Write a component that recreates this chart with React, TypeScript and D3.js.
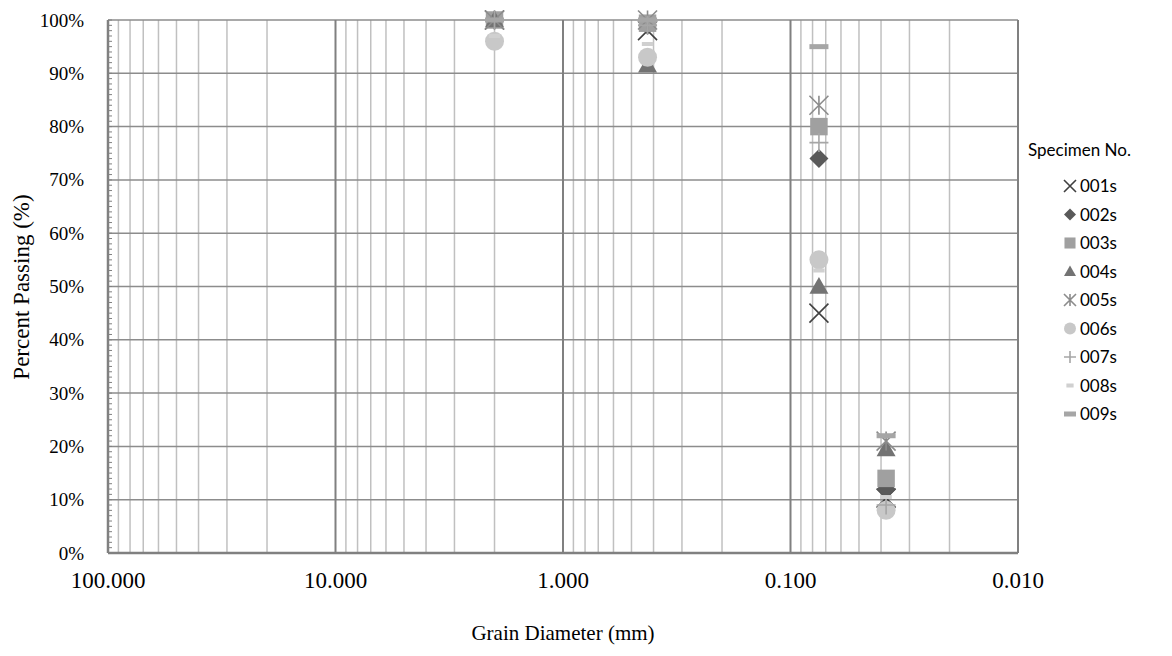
import { useEffect, useRef } from "react";
import * as d3 from "d3";

// sieve sizes (mm)
const sizes = [2.0, 0.425, 0.075, 0.038];

const specimens = ["001s", "002s", "003s", "004s", "005s", "006s", "007s", "008s", "009s"];

// percent passing per specimen, same order as sizes
const s001 = [100, 98, 45, 10.3];
const s002 = [100, 99, 74, 12];
const s003 = [100, 99.4, 80, 14];
const s004 = [100, 91.5, 50, 19.5];
const s005 = [100, 100, 84, 21];
const s006 = [96, 93, 55, 8];
const s007 = [100, 99, 77, 9];
const s008 = [97, 95.5, 53, 10.5];
const s009 = [100, 100, 95, 22];

const yTicks = [0, 10, 20, 30, 40, 50, 60, 70, 80, 90, 100];
const xTicks = [100, 10, 1, 0.1, 0.01];

const seriesValues = [s001, s002, s003, s004, s005, s006, s007, s008, s009];
const markerKinds = ["x", "diamond", "square", "triangle", "star", "circle", "plus", "dashShort", "dashLong"];
const markerColors = ["#404040", "#595959", "#a0a0a0", "#737373", "#8c8c8c", "#c8c8c8", "#a6a6a6", "#d0d0d0", "#a6a6a6"];

function drawMarker(g, kind, cx, cy, s, color) {
  const h = s / 2;
  if (kind === "x") {
    g.append("path")
      .attr("d", `M${cx - h},${cy - h}L${cx + h},${cy + h}M${cx - h},${cy + h}L${cx + h},${cy - h}`)
      .attr("stroke", color)
      .attr("stroke-width", 1.6)
      .attr("fill", "none");
  } else if (kind === "diamond") {
    g.append("path")
      .attr("d", `M${cx},${cy - h}L${cx + h},${cy}L${cx},${cy + h}L${cx - h},${cy}Z`)
      .attr("fill", color);
  } else if (kind === "square") {
    g.append("rect")
      .attr("x", cx - h * 0.92)
      .attr("y", cy - h * 0.92)
      .attr("width", s * 0.92)
      .attr("height", s * 0.92)
      .attr("fill", color);
  } else if (kind === "triangle") {
    g.append("path")
      .attr("d", `M${cx},${cy - h}L${cx + h},${cy + h * 0.75}L${cx - h},${cy + h * 0.75}Z`)
      .attr("fill", color);
  } else if (kind === "star") {
    g.append("path")
      .attr(
        "d",
        `M${cx - h},${cy - h}L${cx + h},${cy + h}M${cx - h},${cy + h}L${cx + h},${cy - h}M${cx},${cy - h}L${cx},${cy + h}`
      )
      .attr("stroke", color)
      .attr("stroke-width", 1.6)
      .attr("fill", "none");
  } else if (kind === "circle") {
    g.append("circle").attr("cx", cx).attr("cy", cy).attr("r", h).attr("fill", color);
  } else if (kind === "plus") {
    g.append("path")
      .attr("d", `M${cx - h},${cy}L${cx + h},${cy}M${cx},${cy - h}L${cx},${cy + h}`)
      .attr("stroke", color)
      .attr("stroke-width", 1.6)
      .attr("fill", "none");
  } else if (kind === "dashShort") {
    g.append("rect")
      .attr("x", cx - h * 0.6)
      .attr("y", cy - 2)
      .attr("width", s * 0.6)
      .attr("height", 4)
      .attr("fill", color);
  } else if (kind === "dashLong") {
    g.append("rect")
      .attr("x", cx - h)
      .attr("y", cy - 2.5)
      .attr("width", s)
      .attr("height", 5)
      .attr("fill", color);
  }
}

export default function App() {
  const svgRef = useRef(null);

  useEffect(() => {
    document.body.style.margin = "0";
    if (!svgRef.current) return;
    const width = 1172;
    const height = 656;
    const left = 108;
    const right = 1018;
    const top = 20;
    const bottom = 553;

    const svg = d3.select(svgRef.current);
    svg.selectAll("*").remove();
    svg.attr("width", width).attr("height", height);

    const x = d3.scaleLog().domain([100, 0.01]).range([left, right]);
    const y = d3.scaleLinear().domain([0, 100]).range([bottom, top]);

    const grid = svg.append("g");

    // minor vertical grid
    const minors = [];
    [0.01, 0.1, 1, 10].forEach((d) => {
      for (let k = 2; k <= 9; k++) minors.push(d * k);
    });
    minors.forEach((v) => {
      grid
        .append("line")
        .attr("x1", x(v))
        .attr("x2", x(v))
        .attr("y1", top)
        .attr("y2", bottom)
        .attr("stroke", "#c0c0c0")
        .attr("stroke-width", 1.5);
    });

    // horizontal grid
    yTicks.forEach((t) => {
      grid
        .append("line")
        .attr("x1", left)
        .attr("x2", right)
        .attr("y1", y(t))
        .attr("y2", y(t))
        .attr("stroke", "#8c8c8c")
        .attr("stroke-width", 1.5);
    });

    // major vertical grid
    xTicks.forEach((t) => {
      grid
        .append("line")
        .attr("x1", x(t))
        .attr("x2", x(t))
        .attr("y1", top)
        .attr("y2", bottom)
        .attr("stroke", "#808080")
        .attr("stroke-width", 2);
    });

    // left axis minor ticks
    for (let p = 0; p <= 100; p++) {
      grid
        .append("line")
        .attr("x1", left)
        .attr("x2", left + 4)
        .attr("y1", y(p))
        .attr("y2", y(p))
        .attr("stroke", "#808080")
        .attr("stroke-width", 1);
    }
    grid
      .append("line")
      .attr("x1", left)
      .attr("x2", left)
      .attr("y1", top)
      .attr("y2", bottom)
      .attr("stroke", "#808080")
      .attr("stroke-width", 2.5);
    grid
      .append("line")
      .attr("x1", left)
      .attr("x2", right)
      .attr("y1", bottom)
      .attr("y2", bottom)
      .attr("stroke", "#808080")
      .attr("stroke-width", 2.5);

    // tick labels
    yTicks.forEach((t) => {
      svg
        .append("text")
        .attr("x", 84)
        .attr("y", y(t) + 6.5)
        .attr("text-anchor", "end")
        .attr("font-family", "Liberation Serif, serif")
        .attr("font-size", "19px")
        .attr("fill", "#000")
        .text(`${t}%`);
    });
    xTicks.forEach((t) => {
      svg
        .append("text")
        .attr("x", x(t))
        .attr("y", 588)
        .attr("text-anchor", "middle")
        .attr("font-family", "Liberation Serif, serif")
        .attr("font-size", "23px")
        .attr("fill", "#000")
        .text(t.toFixed(3));
    });

    svg
      .append("text")
      .attr("x", 563)
      .attr("y", 640)
      .attr("text-anchor", "middle")
      .attr("font-family", "Liberation Serif, serif")
      .attr("font-size", "21px")
      .attr("fill", "#000")
      .text("Grain Diameter (mm)");
    svg
      .append("text")
      .attr("transform", `translate(29,287) rotate(-90)`)
      .attr("text-anchor", "middle")
      .attr("font-family", "Liberation Serif, serif")
      .attr("font-size", "23px")
      .attr("fill", "#000")
      .text("Percent Passing (%)");

    // points
    const pts = svg.append("g");
    seriesValues.forEach((vals, i) => {
      vals.forEach((v, j) => {
        drawMarker(pts, markerKinds[i], x(sizes[j]), y(v), 19, markerColors[i]);
      });
    });

    // legend
    const leg = svg.append("g");
    leg
      .append("text")
      .attr("x", 1028)
      .attr("y", 156)
      .attr("font-family", "Lato, sans-serif")
      .attr("font-size", "17px")
      .attr("fill", "#000")
      .text("Specimen No.");
    specimens.forEach((name, i) => {
      const cy = 186 + i * 28.5;
      drawMarker(leg, markerKinds[i], 1070, cy, 12, markerColors[i]);
      leg
        .append("text")
        .attr("x", 1080)
        .attr("y", cy + 6)
        .attr("font-family", "Lato, sans-serif")
        .attr("font-size", "17px")
        .attr("fill", "#000")
        .text(name);
    });
  }, []);

  return <svg ref={svgRef} />;
}
